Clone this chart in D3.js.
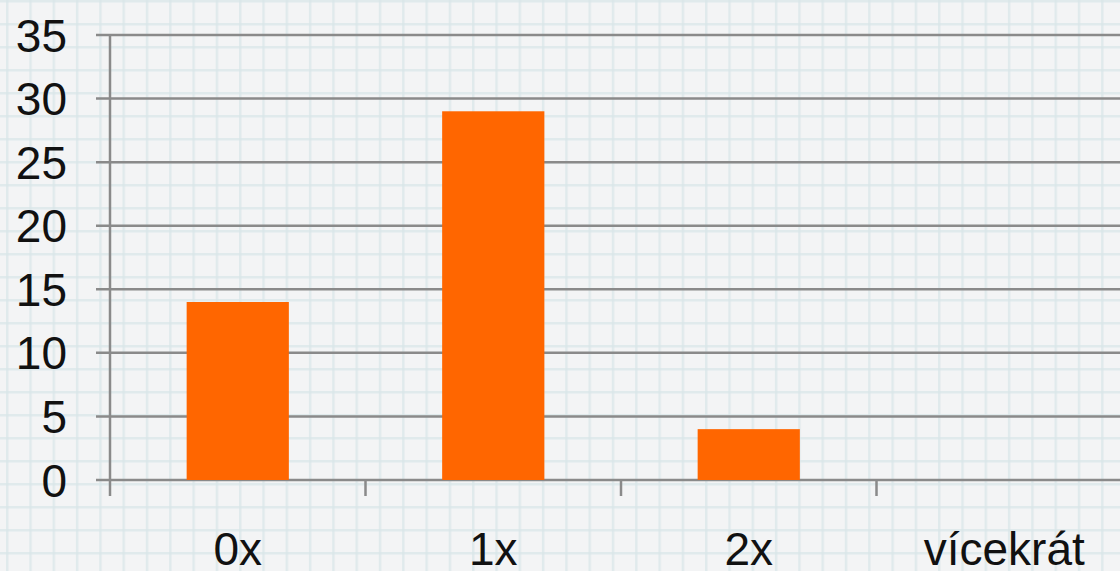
<!DOCTYPE html>
<html><head><meta charset="utf-8">
<script src="https://cdn.jsdelivr.net/npm/d3@7"></script>
<style>html,body{margin:0;padding:0;background:#f3f4f5;overflow:hidden}</style>
</head><body>
<script>
const categories = ["0x", "1x", "2x", "vícekrát"];
const values = [14, 29, 4, 0];
const yTicks = [0, 5, 10, 15, 20, 25, 30, 35];

const W = 1120, H = 571;
const svg = d3.select("body").append("svg").attr("width", W).attr("height", H);

// grid paper background
const defs = svg.append("defs");
const pat = defs.append("pattern").attr("id", "paper").attr("patternUnits", "userSpaceOnUse")
  .attr("width", 23.3).attr("height", 23).attr("x", 6).attr("y", 0);
pat.append("rect").attr("width", 23.3).attr("height", 23).attr("fill", "#f3f4f5");
pat.append("rect").attr("x", 0).attr("y", 0).attr("width", 2.5).attr("height", 23).attr("fill", "#d9e6e9").attr("opacity", 0.7);
pat.append("rect").attr("x", 0).attr("y", 0).attr("width", 23.3).attr("height", 2.5).attr("fill", "#d9e6e9").attr("opacity", 0.7);
svg.append("rect").attr("width", W).attr("height", H).attr("fill", "url(#paper)");

const x0 = 110, bandW = 255.5;
const x = d3.scaleBand().domain(categories).range([x0, x0 + bandW * 4]).paddingInner(0).paddingOuter(0);
const y = d3.scaleLinear().domain([0, 35]).range([480, 35]);

const grid = "#8a8a8a";
// horizontal gridlines with left ticks
svg.append("g").selectAll("line").data(yTicks).join("line")
  .attr("x1", 96).attr("x2", W + 20)
  .attr("y1", d => y(d)).attr("y2", d => y(d))
  .attr("stroke", grid).attr("stroke-width", 2.5);

// y axis line
svg.append("line").attr("x1", x0).attr("x2", x0).attr("y1", y(35)).attr("y2", 496)
  .attr("stroke", grid).attr("stroke-width", 2.5);
// category ticks
svg.append("g").selectAll("line").data(categories.slice(1)).join("line")
  .attr("x1", d => x(d)).attr("x2", d => x(d)).attr("y1", y(0)).attr("y2", 496)
  .attr("stroke", grid).attr("stroke-width", 2.5);

// bars
const bw = bandW * 0.4;
svg.append("g").selectAll("rect").data(values).join("rect")
  .attr("x", (d, i) => x(categories[i]) + x.bandwidth() / 2 - bw / 2)
  .attr("width", bw)
  .attr("y", d => y(d))
  .attr("height", d => y(0) - y(d))
  .attr("fill", "#ff6600");

// y labels
svg.append("g").selectAll("text").data(yTicks).join("text")
  .attr("x", 67).attr("y", d => y(d)).attr("dy", "0.36em")
  .attr("text-anchor", "end")
  .attr("font-family", "Liberation Sans, Arial, sans-serif").attr("font-size", 46)
  .attr("fill", "#111").text(d => d);

// x labels
svg.append("g").selectAll("text").data(categories).join("text")
  .attr("x", d => x(d) + x.bandwidth() / 2).attr("y", 565)
  .attr("text-anchor", "middle")
  .attr("font-family", "Liberation Sans, Arial, sans-serif").attr("font-size", 46)
  .attr("fill", "#111").text(d => d);
</script>
</body></html>
